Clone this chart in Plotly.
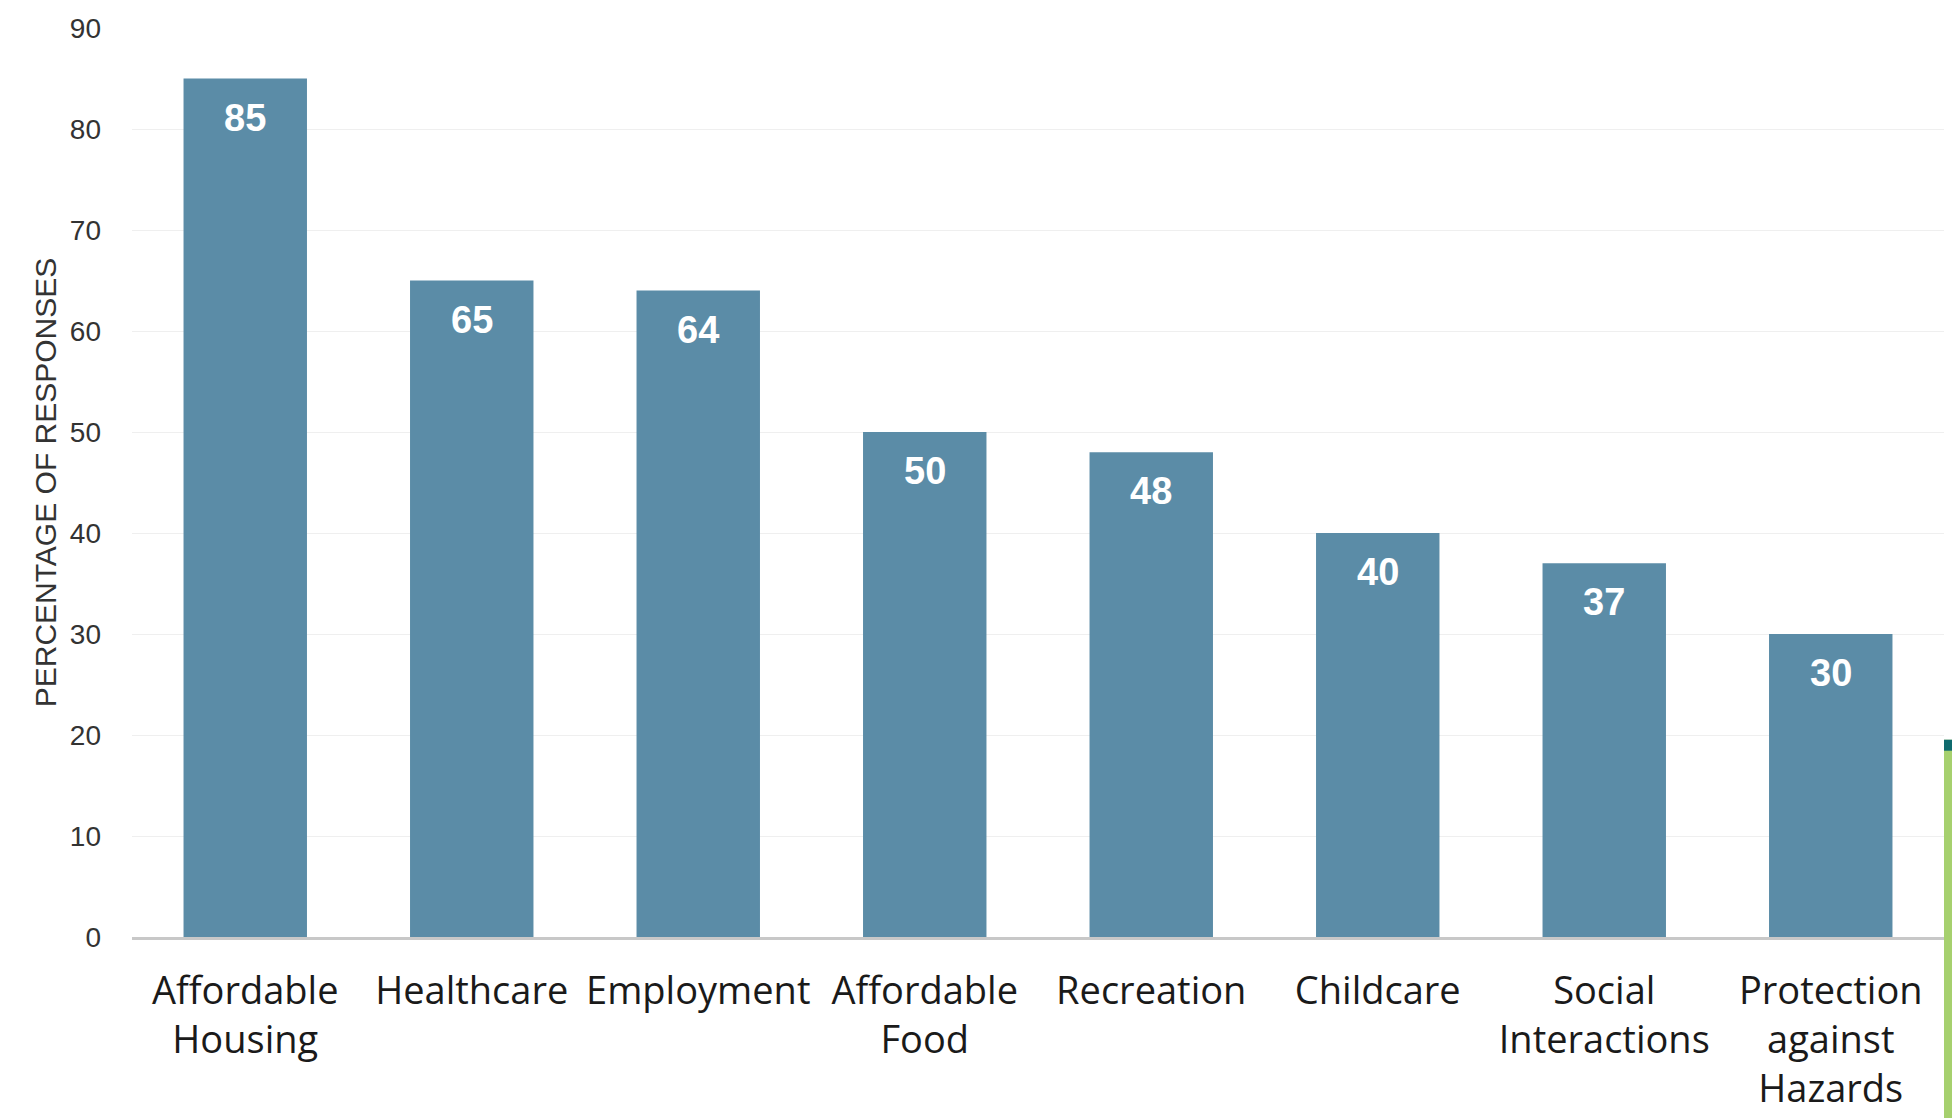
import plotly.graph_objects as go

categories = ["Affordable<br>Housing", "Healthcare", "Employment", "Affordable<br>Food",
              "Recreation", "Childcare", "Social<br>Interactions", "Protection<br>against<br>Hazards"]
values = [85, 65, 64, 50, 48, 40, 37, 30]
y_ticks = [0, 10, 20, 30, 40, 50, 60, 70, 80, 90]
y_title = "PERCENTAGE OF RESPONSES"

BAR = "#5b8ca7"

fig = go.Figure()
fig.add_trace(go.Bar(
    x=categories, y=values, marker=dict(color=BAR, line=dict(width=0)),
    hoverinfo="x+y",
))

annotations = []
for c, v in zip(categories, values):
    annotations.append(dict(
        x=c, y=v, xref="x", yref="y", text=str(v), showarrow=False,
        yanchor="middle", yshift=-39,
        font=dict(family="Liberation Sans", size=38, color="white", weight="bold"),
    ))

# The page body adds an 8px margin, so the figure is sized to fill the window.
W, H = 1952, 1110
L, R, T, B = 124, 16, 19.5, 180.5
pw = W - L - R
ph = H - T - B


def px_x(px):
    return (px - L) / pw


def px_y(px):
    return (H - B - px) / ph


shapes = [
    dict(type="rect", xref="paper", yref="paper", x0=px_x(1936), x1=px_x(1956),
         y0=px_y(1112), y1=px_y(732),
         fillcolor="#a6d06e", line=dict(width=0), layer="above"),
    dict(type="rect", xref="paper", yref="paper", x0=px_x(1936), x1=px_x(1956),
         y0=px_y(743), y1=px_y(732),
         fillcolor="#0f6b6e", line=dict(width=0), layer="above"),
]

fig.update_layout(
    width=W, height=H,
    margin=dict(l=L, r=R, t=T, b=B, pad=0, autoexpand=False),
    paper_bgcolor="white", plot_bgcolor="white",
    bargap=0.455,
    showlegend=False,
    annotations=annotations,
    shapes=shapes,
    xaxis=dict(
        type="category", automargin=False,
        tickfont=dict(family="Open Sans", size=38, color="#1a1a1a"),
        showgrid=False, ticks="", showline=True, linecolor="#c8c8c8", linewidth=3,
        ticklabelstandoff=18,
    ),
    yaxis=dict(
        range=[0, 90], tickvals=y_ticks, automargin=False,
        tickfont=dict(family="Liberation Sans", size=28, color="#333333"),
        showgrid=True, gridcolor="#efefef", gridwidth=1,
        zeroline=False, showline=False, ticks="",
        ticklabelstandoff=30,
        title=dict(text=y_title, font=dict(family="Liberation Sans", size=30, color="#333333"),
                   standoff=4),
    ),
)

fig.write_html("out.html")
